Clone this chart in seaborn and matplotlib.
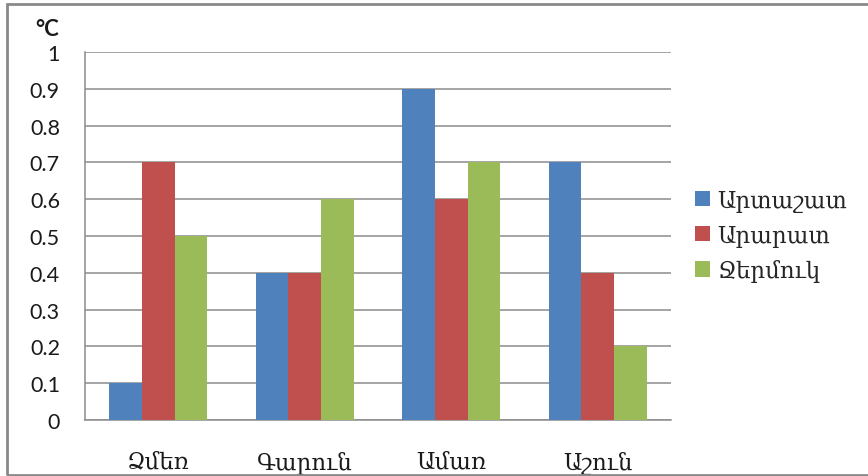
import matplotlib
matplotlib.use("Agg")
import matplotlib.pyplot as plt
from matplotlib.patches import Rectangle, Patch
from matplotlib.ticker import FixedLocator, NullFormatter
import seaborn as sns
import pandas as pd

seasons = ["Ձմեռ", "Գարուն", "Ամառ", "Աշուն"]
stations = ["Արտաշատ", "Արարատ", "Ջերմուկ"]
artashat = [0.1, 0.4, 0.9, 0.7]
ararat = [0.7, 0.4, 0.6, 0.4]
jermuk = [0.5, 0.6, 0.7, 0.2]
y_ticks = [0, 0.1, 0.2, 0.3, 0.4, 0.5, 0.6, 0.7, 0.8, 0.9, 1]
y_tick_labels = ["0", "0.1", "0.2", "0.3", "0.4", "0.5", "0.6", "0.7", "0.8", "0.9", "1"]
unit_label = "°C"

colors = ["#4F81BD", "#C0504D", "#9BBB59"]
arm_font = ["DejaVu Serif", "DejaVu Sans"]
num_font = ["Lato", "DejaVu Sans"]

rows = []
for name, vals in zip(stations, [artashat, ararat, jermuk]):
    for s, v in zip(seasons, vals):
        rows.append({"season": s, "station": name, "value": v})
df = pd.DataFrame(rows)

sns.set_theme(style="white")
plt.rcParams["font.family"] = num_font

fig = plt.figure(figsize=(8.68, 4.77), dpi=100)
ax = fig.add_axes([85 / 868, 1 - 421 / 477, (671 - 85) / 868, (421 - 53) / 477])

sns.barplot(data=df, x="season", y="value", hue="station", order=seasons,
            hue_order=stations, palette=colors, width=0.667, gap=0,
            saturation=1, errorbar=None, legend=False, ax=ax, zorder=3,
            linewidth=0)

grid_c = "#8c8c8c"
ax.set_xlim(-0.5, 3.5)
ax.set_ylim(0, 1)
ax.set_yticks(y_ticks)
ax.set_yticklabels(y_tick_labels, fontsize=15.5, color="#1a1a1a")
ax.yaxis.grid(True, color=grid_c, linewidth=1.1, zorder=0)
ax.set_axisbelow(True)

# category boundaries carry the tick marks, labels sit at the centers
ax.xaxis.set_major_locator(FixedLocator([-0.5, 0.5, 1.5, 2.5, 3.5]))
ax.xaxis.set_major_formatter(NullFormatter())
ax.xaxis.set_minor_locator(FixedLocator([0, 1, 2, 3]))
ax.set_xticklabels(seasons, minor=True, fontsize=16.5, family=arm_font, color="#1a1a1a")
ax.tick_params(axis="x", which="major", length=8, width=1.1, color=grid_c, direction="out")
ax.tick_params(axis="x", which="minor", length=0, pad=22)
ax.tick_params(axis="y", length=8, width=1.1, color=grid_c, direction="out", pad=10)
ax.set_xlabel("")
ax.set_ylabel("")

for side in ["top", "right"]:
    ax.spines[side].set_visible(False)
for side in ["left", "bottom"]:
    ax.spines[side].set_color(grid_c)
    ax.spines[side].set_linewidth(1.1)

fig.text(59 / 868, 1 - 30 / 477, unit_label, ha="right", va="center",
         fontsize=16, fontweight="bold", color="#1a1a1a")

handles = [Patch(facecolor=c, edgecolor="none") for c in colors]
fig.legend(handles, stations, loc="center left",
           bbox_to_anchor=(674 / 868, 1 - 237 / 477), frameon=False,
           handlelength=0.65, handleheight=0.65, handletextpad=0.35,
           labelspacing=0.55, prop={"family": arm_font, "size": 16.5})

# chart frame
fig.patches.append(Rectangle((7 / 868, 1 / 477), 1.2, 1 - 6 / 477,
                             transform=fig.transFigure, fill=False,
                             edgecolor="#8a8a8a", linewidth=2, zorder=10))

fig.savefig("out.png", dpi=100, facecolor="white")
